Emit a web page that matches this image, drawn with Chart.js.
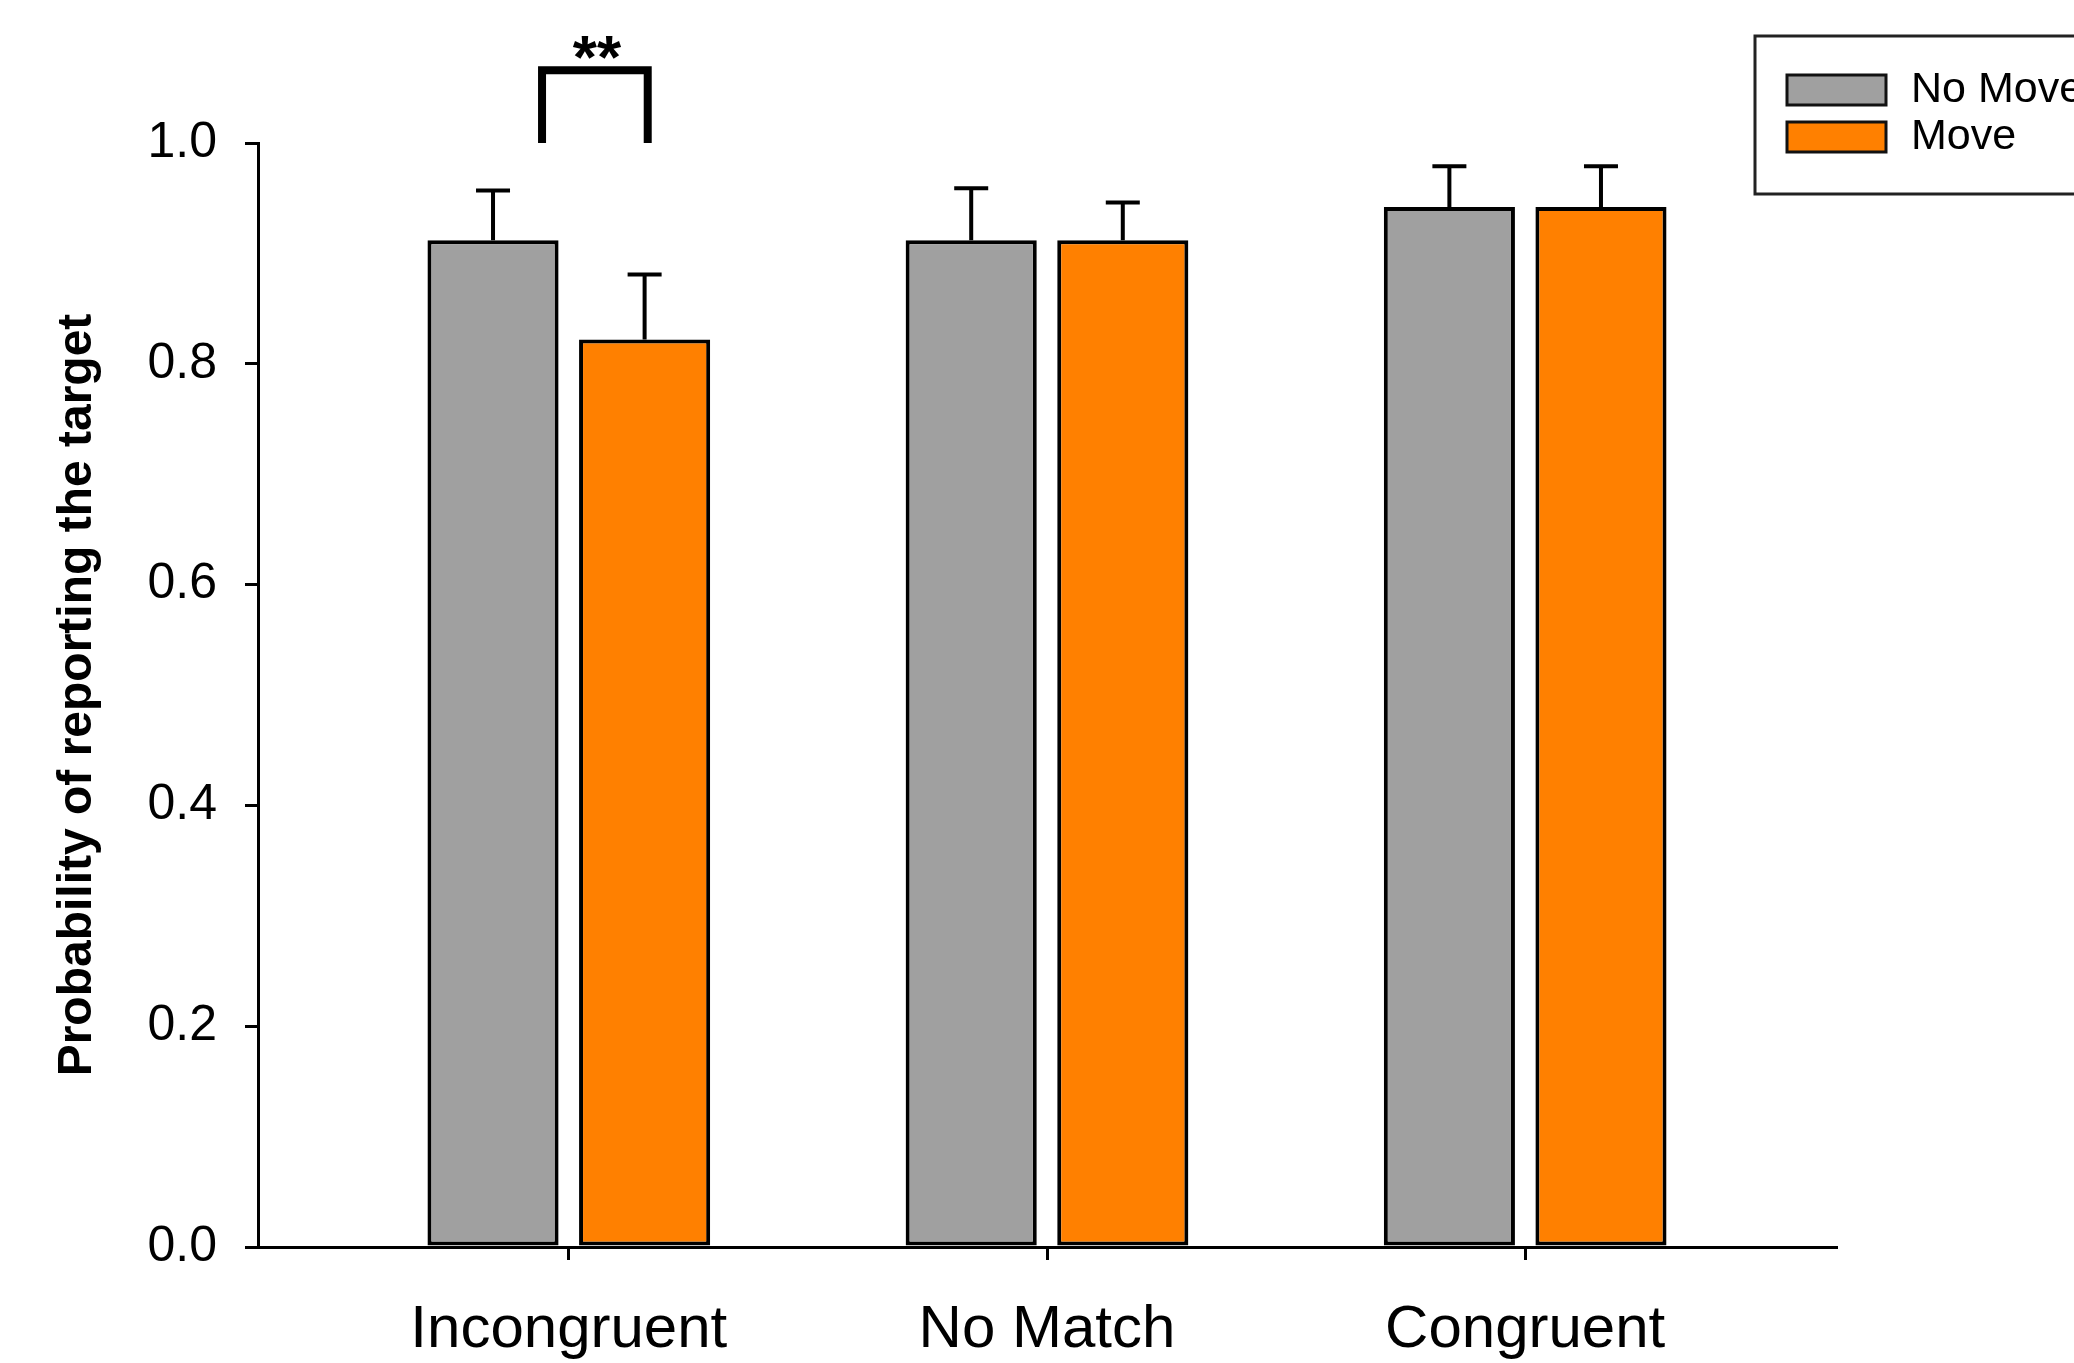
<!DOCTYPE html>
<html>
<head>
<meta charset="utf-8">
<script src="https://cdn.jsdelivr.net/npm/chart.js@4/dist/chart.umd.min.js"></script>
<style>
  html, body { margin: 0; padding: 0; background: #fff; }
  #wrap { width: 2074px; height: 1363px; }
</style>
</head>
<body>
<div id="wrap"><canvas id="chart" width="2074" height="1363"></canvas></div>
<script>
// data
const categories = ["Incongruent", "No Match", "Congruent"];
const positions = [1, 2, 3];
const seriesNames = ["No Move", "Move"];
const noMove = [0.912, 0.912, 0.942];
const noMoveErr = [0.045, 0.047, 0.037];
const move = [0.822, 0.912, 0.942];
const moveErr = [0.059, 0.034, 0.037];
const yTicks = [0, 0.2, 0.4, 0.6, 0.8, 1.0];
const colors = ["#a0a0a0", "#ff8000"];

const font = "'Liberation Sans', Arial, sans-serif";

const toPoints = vals => vals.map((v, i) => ({ x: positions[i], y: v }));

// upper error bars on top of each bar
const errorBars = {
  id: "errorBars",
  afterDatasetsDraw(chart) {
    const ctx = chart.ctx;
    const y = chart.scales.y;
    ctx.save();
    ctx.strokeStyle = "#000";
    ctx.lineWidth = 4;
    chart.data.datasets.forEach((ds, di) => {
      const meta = chart.getDatasetMeta(di);
      meta.data.forEach((bar, i) => {
        const top = y.getPixelForValue(ds.data[i].y + ds.err[i]);
        ctx.beginPath();
        ctx.moveTo(bar.x, bar.y);
        ctx.lineTo(bar.x, top);
        ctx.moveTo(bar.x - 17, top);
        ctx.lineTo(bar.x + 17, top);
        ctx.stroke();
      });
    });
    ctx.restore();
  }
};

// significance bracket over Incongruent
const bracket = {
  id: "bracket",
  afterDraw(chart) {
    const ctx = chart.ctx;
    const x = chart.scales.x, y = chart.scales.y;
    const x1 = x.getPixelForValue(0.944), x2 = x.getPixelForValue(1.165);
    const yb = y.getPixelForValue(1.0), yt = y.getPixelForValue(1.066);
    ctx.save();
    ctx.strokeStyle = "#000";
    ctx.lineWidth = 8;
    ctx.lineJoin = "miter";
    ctx.lineCap = "butt";
    ctx.beginPath();
    ctx.moveTo(x1, yb);
    ctx.lineTo(x1, yt);
    ctx.lineTo(x2, yt);
    ctx.lineTo(x2, yb);
    ctx.stroke();
    ctx.fillStyle = "#000";
    ctx.font = "bold 62px " + font;
    ctx.textAlign = "center";
    ctx.textBaseline = "alphabetic";
    const m = ctx.measureText("* *");
    const cy = 47;
    const base = cy + (m.actualBoundingBoxAscent - m.actualBoundingBoxDescent) / 2;
    ctx.fillText("**", (x1 + x2) / 2 + 2, base);
    ctx.restore();
  }
};

// boxed legend, top right
const boxLegend = {
  id: "boxLegend",
  afterDraw(chart) {
    const ctx = chart.ctx;
    ctx.save();
    ctx.strokeStyle = "#222";
    ctx.lineWidth = 3;
    ctx.strokeRect(1755, 36, 340, 158);
    const rows = [75, 122];
    chart.data.datasets.forEach((ds, i) => {
      ctx.fillStyle = ds.backgroundColor;
      ctx.fillRect(1787, rows[i], 99, 30);
      ctx.lineWidth = 3;
      ctx.strokeStyle = "#111";
      ctx.strokeRect(1787, rows[i], 99, 30);
      ctx.fillStyle = "#000";
      ctx.font = "43px " + font;
      ctx.textBaseline = "middle";
      ctx.fillText(ds.label, 1911, rows[i] + 15);
    });
    ctx.restore();
  }
};

new Chart(document.getElementById("chart"), {
  type: "bar",
  data: {
    datasets: [
      { label: seriesNames[0], data: toPoints(noMove), err: noMoveErr, backgroundColor: colors[0] },
      { label: seriesNames[1], data: toPoints(move), err: moveErr, backgroundColor: colors[1] }
    ]
  },
  options: {
    responsive: false,
    animation: false,
    devicePixelRatio: 1,
    layout: { padding: { top: 143, right: 238, left: 0, bottom: 0 } },
    datasets: {
      bar: {
        categoryPercentage: 0.634,
        barPercentage: 0.865,
        borderColor: "#000",
        borderWidth: 4,
        borderSkipped: false
      }
    },
    plugins: {
      legend: { display: false },
      tooltip: { enabled: false }
    },
    scales: {
      x: {
        type: "linear",
        min: 0.35,
        max: 3.65,
        offset: false,
        afterBuildTicks: s => { s.ticks = positions.map(v => ({ value: v })); },
        afterFit: s => { s.height = 116; },
        ticks: {
          callback: v => categories[positions.indexOf(v)],
          font: { family: font, size: 60 },
          color: "#000",
          padding: 34,
          maxRotation: 0,
          autoSkip: false
        },
        grid: { offset: false, drawOnChartArea: false, drawTicks: true, tickLength: 13, color: "#000", lineWidth: 3 },
        border: { color: "#000", width: 3 }
      },
      y: {
        min: 0,
        max: 1,
        afterBuildTicks: s => { s.ticks = yTicks.map(v => ({ value: v })); },
        afterFit: s => { s.width = 258; },
        ticks: {
          callback: v => v.toFixed(1),
          font: { family: font, size: 50 },
          color: "#000",
          padding: 28
        },
        grid: { drawOnChartArea: false, drawTicks: true, tickLength: 13, color: "#000", lineWidth: 3 },
        border: { color: "#000", width: 3 },
        title: {
          display: true,
          text: "Probability of reporting the target",
          font: { family: font, size: 48, weight: "bold" },
          color: "#000",
          padding: { top: 49, bottom: 0 }
        }
      }
    }
  },
  plugins: [errorBars, bracket, boxLegend]
});
</script>
</body>
</html>
